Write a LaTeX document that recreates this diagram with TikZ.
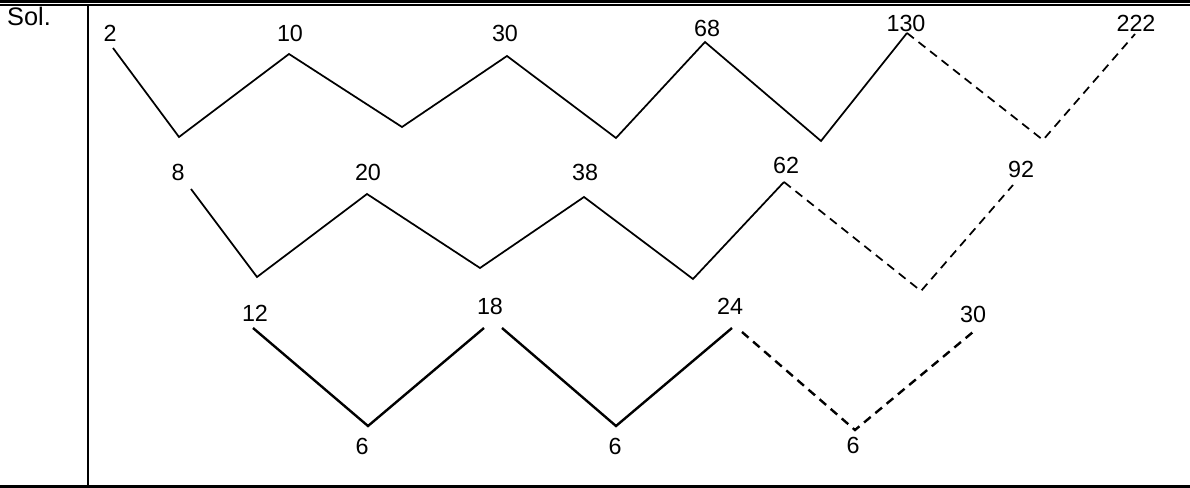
\documentclass[tikz,border=0pt]{standalone}
\usepackage{fontspec}
\setmainfont{Liberation Sans}
\begin{document}
\begin{tikzpicture}[x=0.75pt,y=-0.75pt,
  lbl/.style={inner sep=0pt,font=\fontsize{17.5}{20}\selectfont},
  solidA/.style={line width=1.3pt,line join=miter},
  dashA/.style={line width=1.3pt,dash pattern=on 6.5pt off 4.5pt},
  solidB/.style={line width=1.8pt},
  dashB/.style={line width=1.8pt,dash pattern=on 6.5pt off 4.5pt},
  rule/.style={line width=#1}]
\useasboundingbox (0,0) rectangle (1190,488);
% table rules
\draw[rule=2.4pt] (0,1.6) -- (1190,1.6);
\draw[rule=1.1pt] (0,5) -- (1190,5);
\draw[rule=2.2pt] (0,486.5) -- (1190,486.5);
\draw[rule=1.6pt] (88,5) -- (88,488);
\node[inner sep=0pt,font=\fontsize{19}{22}\selectfont] (sol) at (29,16) {Sol.};
% row 1
\node[lbl] (l2) at (110,33) {2};
\node[lbl] (l10) at (290,33) {10};
\node[lbl] (l30) at (505,33) {30};
\node[lbl] (l68) at (707,28) {68};
\node[lbl] (l130) at (906,23) {130};
\node[lbl] (l222) at (1136,23) {222};
\coordinate (a0) at (113,48);
\coordinate (a1) at (179,137);
\coordinate (a2) at (289,54);
\coordinate (a3) at (402,127);
\coordinate (a4) at (507,56);
\coordinate (a5) at (616,138);
\coordinate (a6) at (705,42);
\coordinate (a7) at (821,141);
\coordinate (a8) at (907,33);
\coordinate (a9) at (1043,140);
\coordinate (a10) at (1135,34);
\draw[solidA] (a0) -- (a1) -- (a2) -- (a3) -- (a4) -- (a5) -- (a6) -- (a7) -- (a8);
\draw[dashA] (a8) -- (a9) -- (a10);
% row 2
\node[lbl] (l8) at (178,172) {8};
\node[lbl] (l20) at (368,172) {20};
\node[lbl] (l38) at (585,172) {38};
\node[lbl] (l62) at (786,165) {62};
\node[lbl] (l92) at (1021,169) {92};
\coordinate (b0) at (191,189);
\coordinate (b1) at (257,277);
\coordinate (b2) at (367,194);
\coordinate (b3) at (480,268);
\coordinate (b4) at (584,197);
\coordinate (b5) at (693,279);
\coordinate (b6) at (784,182);
\coordinate (b7) at (921,291);
\coordinate (b8) at (1013,185);
\draw[solidA] (b0) -- (b1) -- (b2) -- (b3) -- (b4) -- (b5) -- (b6);
\draw[dashA] (b6) -- (b7) -- (b8);
% row 3
\node[lbl] (l12) at (255,313) {12};
\node[lbl] (l18) at (490,306) {18};
\node[lbl] (l24) at (730,306) {24};
\node[lbl] (l30b) at (973,314) {30};
\node[lbl] (l6a) at (362,446) {6};
\node[lbl] (l6b) at (615,446) {6};
\node[lbl] (l6c) at (853,445) {6};
\coordinate (c0) at (253,328);
\coordinate (c1) at (368,426);
\coordinate (c2) at (484,328);
\coordinate (c3) at (502,328);
\coordinate (c4) at (616,426);
\coordinate (c5) at (732,328);
\coordinate (c6) at (742,332);
\coordinate (c7) at (855,430);
\coordinate (c8) at (973,332);
\draw[solidB] (c0) -- (c1) -- (c2);
\draw[solidB] (c3) -- (c4) -- (c5);
\draw[dashB] (c6) -- (c7) -- (c8);
\end{tikzpicture}
\end{document}
